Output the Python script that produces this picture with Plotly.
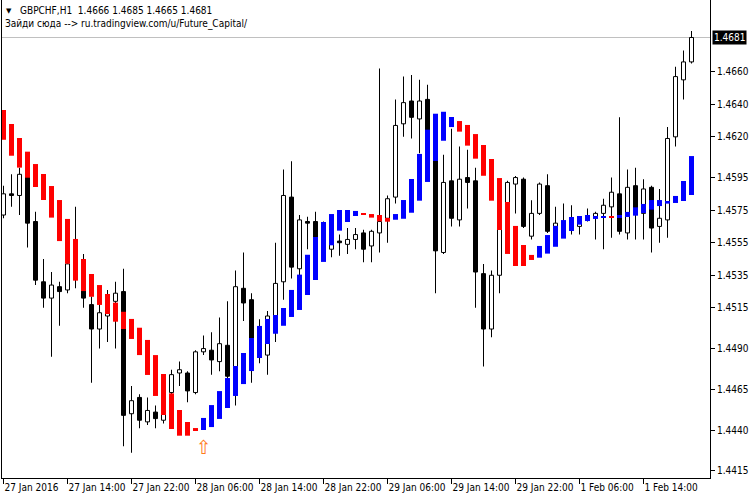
import plotly.graph_objects as go

symbol_line = "GBPCHF,H1\u00a0\u00a01.4666 1.4685 1.4665 1.4681"
subtitle = "Зайди сюда --> ru.tradingview.com/u/Future_Capital/"

bar_index = list(range(87))

open_ = [1.4572, 1.4585, 1.4584, 1.4597, 1.4568, 1.4531, 1.4521, 1.4528, 1.4526, 1.4542,
         1.4537, 1.4517, 1.4502, 1.4510, 1.4519, 1.4525, 1.4450, 1.4460, 1.4445, 1.4451,
         1.4446, 1.4463, 1.4475, 1.4475, 1.4463, 1.4488, 1.4489, 1.4482, 1.4492, 1.4473,
         1.4527, 1.4520, 1.4492, 1.4486, 1.4509, 1.4531, 1.4583, 1.4539, 1.4568, 1.4568,
         1.4557, 1.4551, 1.4556, 1.4554, 1.4557, 1.4561, 1.4553, 1.4561, 1.4570, 1.4583,
         1.4628, 1.4642, 1.4631, 1.4643, 1.4617, 1.4549, 1.4593, 1.4569, 1.4595, 1.4593,
         1.4536, 1.4502, 1.4535, 1.4569, 1.4591, 1.4594, 1.4559, 1.4573, 1.4590, 1.4565,
         1.4566, 1.4568, 1.4565, 1.4570, 1.4571, 1.4573, 1.4577, 1.4585, 1.4561, 1.4590,
         1.4573, 1.4589, 1.4565, 1.4569, 1.4620, 1.4655, 1.4666]
high = [1.4590, 1.4597, 1.4601, 1.4598, 1.4574, 1.4545, 1.4537, 1.4531, 1.4543, 1.4577,
        1.4548, 1.4522, 1.4517, 1.4526, 1.4531, 1.4539, 1.4467, 1.4462, 1.4460, 1.4455,
        1.4463, 1.4477, 1.4482, 1.4476, 1.4489, 1.4498, 1.4500, 1.4509, 1.4519, 1.4538,
        1.4549, 1.4524, 1.4508, 1.4513, 1.4555, 1.4600, 1.4605, 1.4572, 1.4571, 1.4574,
        1.4568, 1.4560, 1.4560, 1.4564, 1.4564, 1.4563, 1.4563, 1.4662, 1.4584, 1.4643,
        1.4657, 1.4658, 1.4655, 1.4652, 1.4620, 1.4609, 1.4625, 1.4614, 1.4612, 1.4601,
        1.4542, 1.4538, 1.4578, 1.4593, 1.4596, 1.4595, 1.4581, 1.4592, 1.4597, 1.4577,
        1.4579, 1.4578, 1.4571, 1.4576, 1.4574, 1.4582, 1.4595, 1.4632, 1.4600, 1.4601,
        1.4594, 1.4590, 1.4588, 1.4626, 1.4663, 1.4673, 1.4685]
low = [1.4570, 1.4577, 1.4572, 1.4552, 1.4529, 1.4515, 1.4485, 1.4504, 1.4524, 1.4527,
       1.4515, 1.4469, 1.4490, 1.4494, 1.4490, 1.4430, 1.4426, 1.4441, 1.4443, 1.4441,
       1.4444, 1.4458, 1.4467, 1.4457, 1.4462, 1.4486, 1.4474, 1.4476, 1.4471, 1.4455,
       1.4507, 1.4469, 1.4481, 1.4474, 1.4494, 1.4520, 1.4533, 1.4532, 1.4551, 1.4550,
       1.4547, 1.4546, 1.4547, 1.4548, 1.4551, 1.4543, 1.4543, 1.4549, 1.4555, 1.4579,
       1.4620, 1.4619, 1.4610, 1.4612, 1.4524, 1.4548, 1.4565, 1.4565, 1.4576, 1.4515,
       1.4479, 1.4497, 1.4524, 1.4563, 1.4573, 1.4564, 1.4557, 1.4572, 1.4561, 1.4563,
       1.4562, 1.4560, 1.4560, 1.4568, 1.4557, 1.4551, 1.4558, 1.4560, 1.4557, 1.4557,
       1.4557, 1.4549, 1.4555, 1.4558, 1.4614, 1.4643, 1.4665]
close = [1.4585, 1.4584, 1.4597, 1.4567, 1.4532, 1.4521, 1.4529, 1.4525, 1.4542, 1.4537,
         1.4521, 1.4502, 1.4512, 1.4519, 1.4524, 1.4449, 1.4458, 1.4446, 1.4452, 1.4447,
         1.4462, 1.4474, 1.4477, 1.4464, 1.4488, 1.4490, 1.4483, 1.4493, 1.4473, 1.4528,
         1.4518, 1.4492, 1.4495, 1.4510, 1.4530, 1.4584, 1.4540, 1.4569, 1.4567, 1.4557,
         1.4562, 1.4557, 1.4555, 1.4557, 1.4560, 1.4551, 1.4562, 1.4568, 1.4582, 1.4627,
         1.4641, 1.4632, 1.4642, 1.4618, 1.4550, 1.4592, 1.4570, 1.4594, 1.4592, 1.4537,
         1.4502, 1.4535, 1.4573, 1.4592, 1.4595, 1.4565, 1.4573, 1.4591, 1.4562, 1.4567,
         1.4568, 1.4566, 1.4570, 1.4571, 1.4573, 1.4578, 1.4586, 1.4562, 1.4589, 1.4573,
         1.4588, 1.4564, 1.4570, 1.4619, 1.4657, 1.4666, 1.4681]

# smoothed Heiken Ashi style indicator (open / close)
ha_open = [1.46365, 1.46279, 1.46193, 1.46109, 1.46033, 1.45972, 1.45898, 1.45812, 1.45696, 1.45573,
           1.45450, 1.45358, 1.45290, 1.45235, 1.45182, 1.45126, 1.45082, 1.45028, 1.44953, 1.44860,
           1.44744, 1.44625, 1.44523, 1.44449, 1.44412, 1.44400, 1.44418, 1.44468, 1.44535, 1.44609,
           1.44682, 1.44762, 1.44842, 1.44928, 1.44991, 1.45040, 1.45094, 1.45137, 1.45229, 1.45321,
           1.45432, 1.45534, 1.45624, 1.45677, 1.45714, 1.45732, 1.45726, 1.45720, 1.45702, 1.45691,
           1.45697, 1.45734, 1.45808, 1.45923, 1.46052, 1.46176, 1.46260, 1.46297, 1.46273, 1.46217,
           1.46150, 1.46064, 1.45947, 1.45800, 1.45653, 1.45536, 1.45475, 1.45458, 1.45483, 1.45525,
           1.45575, 1.45622, 1.45661, 1.45683, 1.45696, 1.45702, 1.45708, 1.45702, 1.45708, 1.45716,
           1.45732, 1.45753, 1.45775, 1.45790, 1.45794, 1.45806, 1.45843]
ha_close = [1.46182, 1.46084, 1.46011, 1.45949, 1.45892, 1.45812, 1.45704, 1.45560, 1.45421, 1.45317,
            1.45253, 1.45218, 1.45168, 1.45112, 1.45065, 1.45020, 1.44959, 1.44860, 1.44738, 1.44609,
            1.44492, 1.44406, 1.44365, 1.44365, 1.44394, 1.44474, 1.44553, 1.44639, 1.44719, 1.44793,
            1.44873, 1.44965, 1.45039, 1.45082, 1.45106, 1.45149, 1.45260, 1.45354, 1.45476, 1.45585,
            1.45677, 1.45726, 1.45751, 1.45751, 1.45745, 1.45722, 1.45704, 1.45681, 1.45679, 1.45726,
            1.45812, 1.45941, 1.46095, 1.46244, 1.46342, 1.46354, 1.46322, 1.46232, 1.46146, 1.46066,
            1.45961, 1.45808, 1.45628, 1.45481, 1.45407, 1.45407, 1.45444, 1.45530, 1.45597, 1.45653,
            1.45689, 1.45708, 1.45714, 1.45720, 1.45714, 1.45708, 1.45702, 1.45720, 1.45739, 1.45767,
            1.45788, 1.45812, 1.45812, 1.45806, 1.45837, 1.45929, 1.46082]

x_tick_index = [0, 8, 16, 24, 32, 40, 48, 56, 64, 72, 80]
x_tick_labels = ["27 Jan 2016", "27 Jan 14:00", "27 Jan 22:00", "28 Jan 06:00", "28 Jan 14:00",
                 "28 Jan 22:00", "29 Jan 06:00", "29 Jan 14:00", "29 Jan 22:00", "1 Feb 06:00",
                 "1 Feb 14:00"]
y_tick_values = [1.4415, 1.4440, 1.4465, 1.4490, 1.4515, 1.4535, 1.4555, 1.4575, 1.4595,
                 1.4620, 1.4640, 1.4660]
last_price = 1.4681
signal_index = [25]
signal_price = [1.4428]

FONT = "'DejaVu Sans Condensed', 'Liberation Sans Narrow', 'Liberation Sans', sans-serif"

fig = go.Figure()

# wicks (as thin bars so that trace order controls layering)
wick_base = low
wick_len = [h - l for h, l in zip(high, low)]
fig.add_trace(go.Bar(x=bar_index, y=wick_len, base=wick_base, width=0.125,
                     marker=dict(color="black", line=dict(width=0))))

# bodies
body_base = [min(o, c) for o, c in zip(open_, close)]
body_len = [abs(c - o) for o, c in zip(open_, close)]
body_col = ["white" if c >= o else "black" for o, c in zip(open_, close)]
fig.add_trace(go.Bar(x=bar_index, y=body_len, base=body_base, width=0.5,
                     marker=dict(color=body_col, line=dict(color="black", width=1))))

# indicator
ha_base = [min(o, c) for o, c in zip(ha_open, ha_close)]
ha_len = [abs(c - o) for o, c in zip(ha_open, ha_close)]
ha_col = ["#0000FF" if c >= o else "#FF0000" for o, c in zip(ha_open, ha_close)]
fig.add_trace(go.Bar(x=bar_index, y=ha_len, base=ha_base, width=0.625,
                     marker=dict(color=ha_col, line=dict(width=0))))

# signal arrow
fig.add_trace(go.Scatter(x=signal_index, y=signal_price, mode="text", text=["⇧"],
                         textfont=dict(color="#FF7A1A", size=19, family="DejaVu Sans"),
                         textposition="middle center"))

fig.add_shape(type="line", xref="paper", x0=0, x1=1, yref="y", y0=last_price, y1=last_price,
              line=dict(color="#C0C0C0", width=1), layer="below")

W, H = 750, 500
ml, mr, mt, mb = 2, 40, 0, 22
pw, ph = W - ml - mr, H - mt - mb


def px(x):
    return (x - ml) / pw


def py(y):
    return 1 - (y - mt) / ph


fig.add_annotation(x=px(4), y=py(11), xref="paper", yref="paper", text="▼", showarrow=False,
                   xanchor="left", yanchor="middle", font=dict(size=7, color="black", family="DejaVu Sans"))
fig.add_annotation(x=px(18), y=py(11), xref="paper", yref="paper", text=symbol_line, showarrow=False,
                   xanchor="left", yanchor="middle", font=dict(size=10, color="black", family=FONT))
fig.add_annotation(x=px(3), y=py(24), xref="paper", yref="paper", text=subtitle, showarrow=False,
                   xanchor="left", yanchor="middle", font=dict(size=10, color="black", family=FONT))
fig.add_annotation(x=px(712), y=last_price, xref="paper", yref="y", text=f"{last_price:.4f}",
                   showarrow=False, xanchor="left", yanchor="middle", bgcolor="black",
                   borderpad=1, font=dict(size=10, color="white", family=FONT))

fig.update_layout(
    width=W, height=H, margin=dict(l=ml, r=mr, t=mt, b=mb, autoexpand=False),
    paper_bgcolor="white", plot_bgcolor="white", showlegend=False, hovermode=False,
    barmode="overlay",
    xaxis=dict(range=[-0.1875, 88.3125], tickvals=x_tick_index, ticktext=x_tick_labels,
               ticks="outside", ticklen=5, tickcolor="black", showline=True, linecolor="black",
               linewidth=1, showgrid=False, zeroline=False, ticklabelposition="outside right",
               tickangle=0, automargin=False,
               tickfont=dict(size=10, color="black", family=FONT)),
    yaxis=dict(range=[1.441053, 1.470402], side="right", tickvals=y_tick_values,
               ticktext=[f"{v:.4f}" for v in y_tick_values], ticks="outside", ticklen=4,
               tickcolor="black", showline=True, mirror=True, linecolor="black", linewidth=1,
               showgrid=False, zeroline=False, automargin=False,
               tickfont=dict(size=10, color="black", family=FONT)),
)

fig.write_html("out.html", config={"displayModeBar": False})

# remove the default page margin so the 750x500 figure fills the window exactly
with open("out.html", "r", encoding="utf-8") as f:
    html = f.read()
html = html.replace("<head>", "<head><style>html,body{margin:0;padding:0;overflow:hidden;}</style>", 1)
with open("out.html", "w", encoding="utf-8") as f:
    f.write(html)
